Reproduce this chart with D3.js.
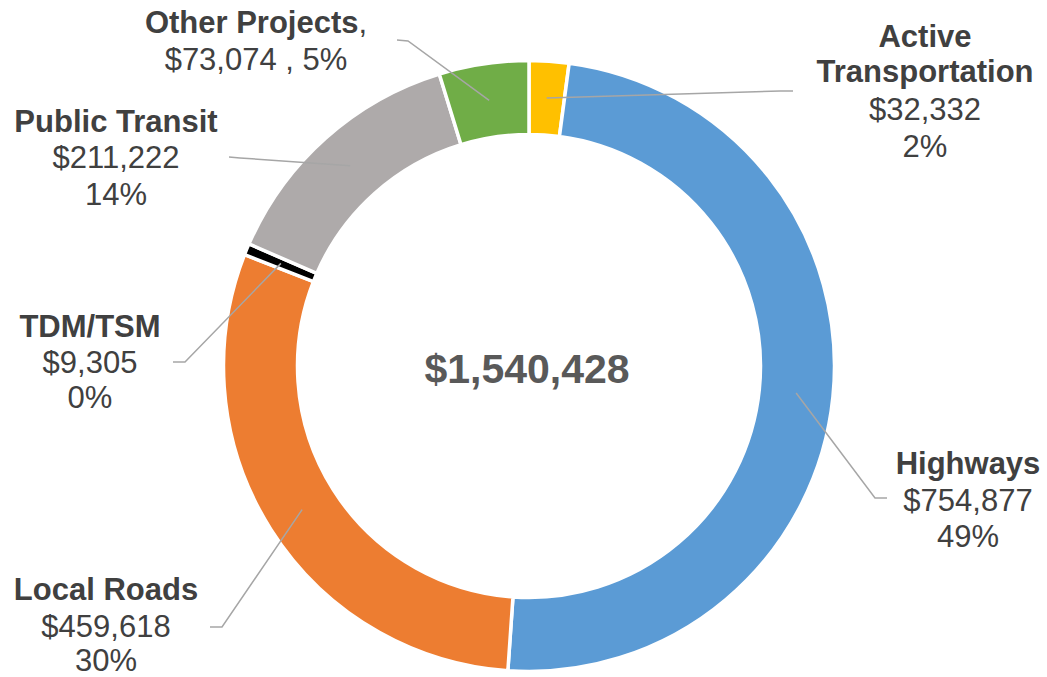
<!DOCTYPE html>
<html>
<head>
<meta charset="utf-8">
<script src="https://cdn.jsdelivr.net/npm/d3@7"></script>
<style>
  html, body { margin: 0; padding: 0; background: #fff; }
  svg { display: block; font-family: "Liberation Sans", Arial, sans-serif; }
</style>
</head>
<body>
<div class="main"></div>
<script>
// chart data, clockwise from 12 o'clock
const categories = ["Active Transportation", "Highways", "Local Roads", "TDM/TSM", "Public Transit", "Other Projects"];
const amounts = [32332, 754877, 459618, 9305, 211222, 73074];
const percentLabels = ["2%", "49%", "30%", "0%", "14%", "5%"];
const totalLabel = "$1,540,428";

const colors = ["#FFC000", "#5B9BD5", "#ED7D31", "#000000", "#AEAAAA", "#70AD47"];

// where each label block sits and where its leader line bends
const labelLayout = {
    "Active Transportation": { x: 925, lines: [47, 82, 120, 157], bend: [[780, 91], [793, 91]] },
    "Highways": { x: 968, lines: [474, 511, 547], bend: [[875, 498], [887, 498]] },
    "Local Roads": { x: 106, lines: [600, 637, 671], bend: [[222, 627], [210, 627]] },
    "TDM/TSM": { x: 90, lines: [337, 373, 408], bend: [[185, 362], [173, 362]] },
    "Public Transit": { x: 116, lines: [132, 168, 205], bend: [[240, 158], [229, 157]] },
    "Other Projects": { x: 256, lines: [33, 70], bend: [[408, 41], [397, 40]] }
};

let width = 1047;
let height = 677;
let cx = 529, cy = 366;

let svg = d3.select(".main")
    .append("svg")
    .attr("width", width)
    .attr("height", height);

let data = categories.map((c, i) => ({ name: c, value: amounts[i], pct: percentLabels[i], color: colors[i] }));

const pie = d3.pie()
    .value(d => d.value)
    .sort(null);

const arc = d3.arc()
    .innerRadius(231.5)
    .outerRadius(305.5);

// centroid used for the leader line start
const midArc = d3.arc()
    .innerRadius(268.5)
    .outerRadius(268.5);

let g = svg.append("g")
    .attr("transform", `translate(${cx},${cy})`);

let arcs = pie(data);

g.selectAll(".slice")
    .data(arcs)
    .enter().append("path")
    .attr("class", "slice")
    .attr("d", arc)
    .attr("fill", d => d.data.color)
    .attr("stroke", "#fff")
    .attr("stroke-width", 3.5)
    .attr("stroke-linejoin", "miter");

// leader lines
svg.selectAll(".leader")
    .data(arcs)
    .enter().append("polyline")
    .attr("class", "leader")
    .attr("fill", "none")
    .attr("stroke", "#A6A6A6")
    .attr("stroke-width", 1.5)
    .attr("points", d => {
        let c = midArc.centroid(d);
        let pts = [[c[0] + cx, c[1] + cy]].concat(labelLayout[d.data.name].bend);
        return pts.map(p => p.join(",")).join(" ");
    });

// data labels
function fmt(v) {
    return "$" + d3.format(",")(v);
}

arcs.forEach(d => {
    let lay = labelLayout[d.data.name];
    let t = svg.append("text")
        .attr("text-anchor", "middle")
        .attr("fill", "#404040")
        .style("font-size", "31px");

    let rows;
    if (d.data.name === "Active Transportation") {
        rows = [[["Active", true]], [["Transportation", true]], [[fmt(d.data.value), false]], [[d.data.pct, false]]];
    } else if (d.data.name === "Other Projects") {
        rows = [[[d.data.name, true], [",", false]], [[fmt(d.data.value) + " , " + d.data.pct, false]]];
    } else {
        rows = [[[d.data.name, true]], [[fmt(d.data.value), false]], [[d.data.pct, false]]];
    }

    rows.forEach((row, i) => {
        row.forEach((part, j) => {
            let s = t.append("tspan")
                .attr("font-weight", part[1] ? "bold" : "normal")
                .text(part[0]);
            if (j === 0) {
                s.attr("x", lay.x).attr("y", lay.lines[i]);
            }
        });
    });
});

// total in the middle
svg.append("text")
    .attr("x", cx - 2)
    .attr("y", 383)
    .attr("text-anchor", "middle")
    .attr("font-weight", "bold")
    .attr("fill", "#595959")
    .style("font-size", "41px")
    .text(totalLabel);
</script>
</body>
</html>
